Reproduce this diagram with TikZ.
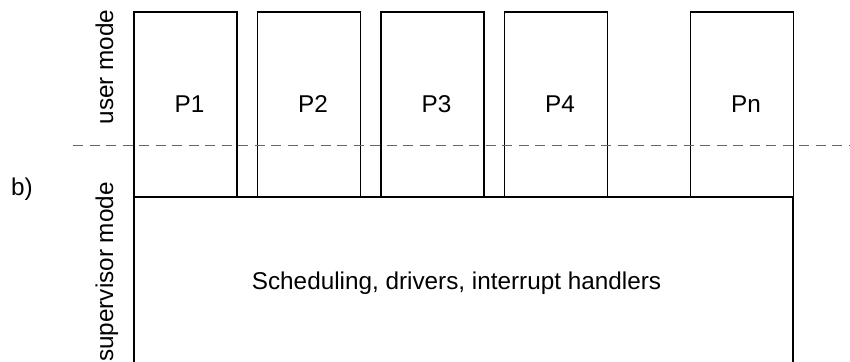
\documentclass[tikz,border=0pt]{standalone}
\usepackage{fontspec}
\setmainfont{Liberation Sans}
\usetikzlibrary{positioning}

\begin{document}
\begin{tikzpicture}[
  x=1pt, y=-1pt,
  every node/.style={font=\fontsize{24.3}{28}\selectfont},
  proc/.style={draw,line width=1.1pt,minimum width=103pt,minimum height=185pt,
               inner sep=0pt,outer sep=0pt,anchor=north west},
  kernel/.style={draw,line width=1.1pt,minimum width=659pt,minimum height=173pt,
                 inner sep=0pt,outer sep=0pt,anchor=north west},
  modelabel/.style={rotate=90,inner sep=0pt},
  modeline/.style={draw=black!60,line width=1.1pt,dash pattern=on 10pt off 6.5pt}
]
\useasboundingbox (0,0) rectangle (850,361);
% kernel part, open at the bottom
\node[kernel] (kern) at (134,197) {Scheduling, drivers, interrupt handlers\hspace*{14pt}};
% user processes
\node[proc] (p1) at (134,12) {\hspace*{8pt}P1};
\node[proc,right=20.5pt of p1] (p2) {\hspace*{8pt}P2};
\node[proc,right=20.5pt of p2] (p3) {\hspace*{8pt}P3};
\node[proc,right=20.5pt of p3] (p4) {\hspace*{8pt}P4};
\node[proc,right=83pt of p4] (pn) {\hspace*{8pt}Pn};
% mode boundary
\coordinate (bl) at (73,145.5);
\coordinate (br) at (850,145.5);
\draw[modeline] (bl) -- (br);
\node[modelabel,anchor=base] (user) at (113,67) {user mode};
\node[modelabel,anchor=base east] (super) at (113,182) {supervisor mode};
\node (tag) at (22,189) {b)};
\end{tikzpicture}
\end{document}
